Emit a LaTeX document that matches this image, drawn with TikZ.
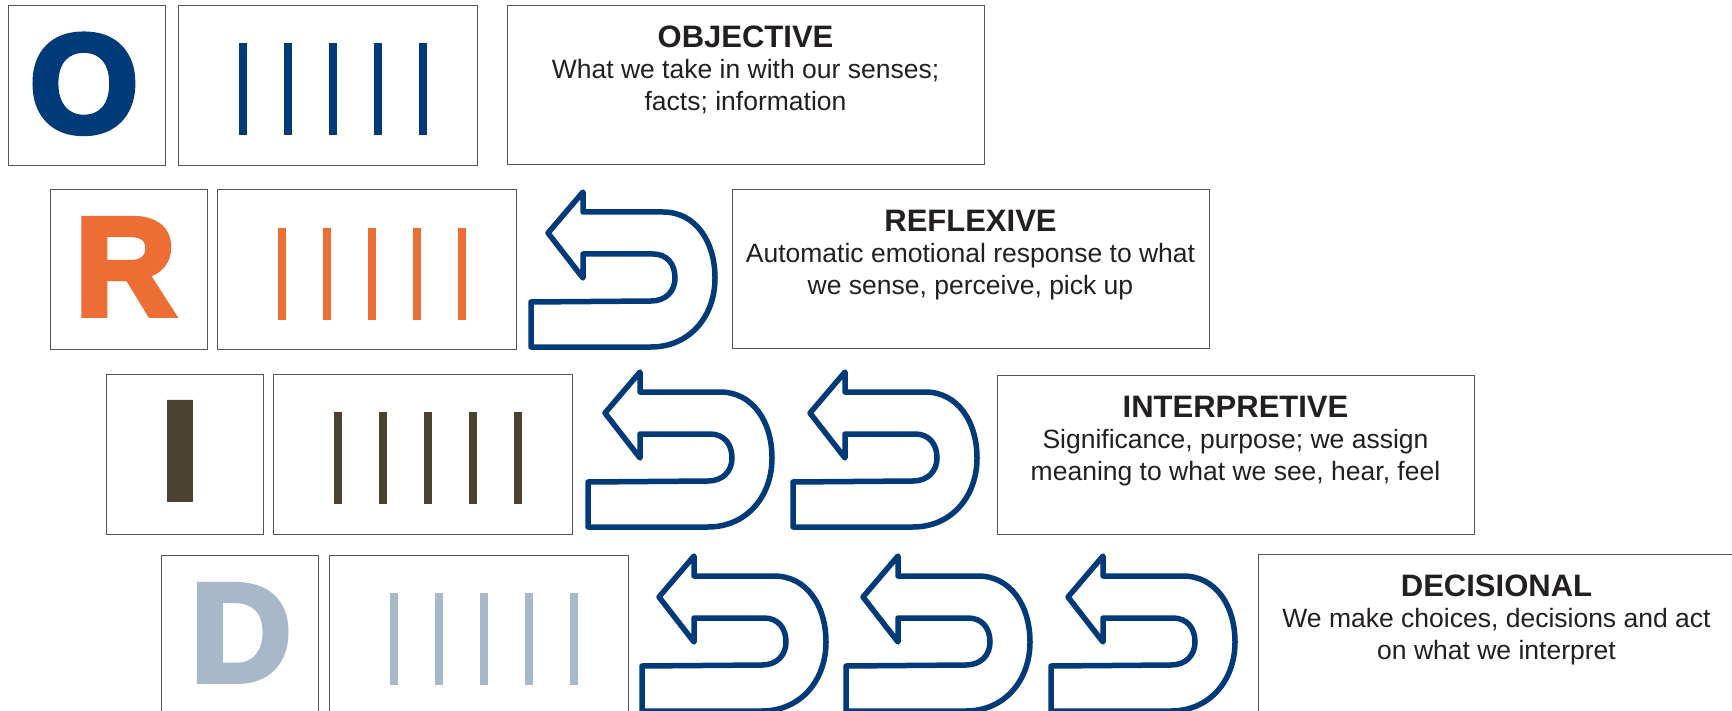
\documentclass[tikz,border=0pt]{standalone}
\usepackage{fontspec}
\setmainfont{Liberation Sans}
\newfontfamily\heavyfont{Liberation Sans Bold}[FakeBold=4]
\definecolor{oblue}{HTML}{003A78}
\definecolor{rorange}{HTML}{EC6E34}
\definecolor{ibrown}{HTML}{4B4230}
\definecolor{dgray}{HTML}{A7B8CB}
\definecolor{boxgray}{HTML}{555555}
\definecolor{txt}{HTML}{231F20}
\tikzset{
  framebox/.style={draw=boxgray, line width=1.4pt, fill=white, inner sep=0pt, anchor=north west},
  letterbox/.style={framebox, minimum width=157pt, minimum height=160pt},
  linesbox/.style={framebox, minimum width=299pt, minimum height=160pt},
  textbox/.style={framebox, minimum width=477pt, minimum height=159pt},
  bigletter/.style={font=\heavyfont\fontsize{140}{140}\selectfont, inner sep=0pt, anchor=base},
  desc/.style={font=\fontsize{26.5}{32}\selectfont, text=txt, align=center, inner sep=0pt, anchor=north},
  tally/.style={line width=8pt},
  uturn/.pic={
    \draw[draw=oblue, line width=5.5pt, line join=round, fill=white]
      (17,41) -- (52,0) -- (52,20) -- (132,20)
      .. controls (165,20) and (184,50) .. (184,86)
      .. controls (184,125) and (158,155) .. (120,155)
      -- (0,155) -- (0,110) -- (120,109)
      .. controls (135,109) and (144,99) .. (144,86)
      .. controls (144,72) and (136,62) .. (122,62)
      -- (52,62) -- (52,86) -- cycle;
  }
}
\begin{document}
\begin{tikzpicture}[x=1pt, y=-1pt]
\clip (0,0) rectangle (1732,711);
\fill[white] (0,0) rectangle (1732,711);

% ---------- Row O ----------
\node[letterbox] (Obox) at (8,5) {};
\node[bigletter, text=oblue] (Olet) at (84,132) {O};
\node[linesbox] (Olines) at (178,5) {};
\foreach \k in {0,...,4} \draw[tally, oblue] (243+45*\k,43) -- (243+45*\k,135);
\node[textbox] (Obox2) at (507,5) {};
\node[desc] (Otext) at (745.5,26) {{\bfseries\fontsize{31}{31}\selectfont OBJECTIVE}\\[-1pt]What we take in with our senses;\\facts; information};

% ---------- Row R ----------
\node[letterbox] (Rbox) at (50,189) {};
\node[bigletter, text=rorange] (Rlet) at (125.5,315) {R};
\node[linesbox] (Rlines) at (217,189) {};
\foreach \k in {0,...,4} \draw[tally, rorange] (282+45*\k,228) -- (282+45*\k,320);
\pic (aR) at (531,192) {uturn};
\node[textbox] (Rbox2) at (732,189) {};
\node[desc] (Rtext) at (970.5,210) {{\bfseries\fontsize{31}{31}\selectfont REFLEXIVE}\\[-1pt]Automatic emotional response to what\\we sense, perceive, pick up};

% ---------- Row I ----------
\node[letterbox] (Ibox) at (106,374) {};
\node[bigletter, text=ibrown] (Ilet) at (180,499) {I};
\node[linesbox] (Ilines) at (273,374) {};
\foreach \k in {0,...,4} \draw[tally, ibrown] (338+45*\k,412) -- (338+45*\k,504);
\pic (aI1) at (588,372) {uturn};
\pic (aI2) at (793,372) {uturn};
\node[textbox] (Ibox2) at (997,375) {};
\node[desc] (Itext) at (1235.5,396) {{\bfseries\fontsize{31}{31}\selectfont INTERPRETIVE}\\[-1pt]Significance, purpose; we assign\\meaning to what we see, hear, feel};

% ---------- Row D ----------
\node[letterbox] (Dbox) at (161,555) {};
\node[bigletter, text=dgray] (Dlet) at (241,681) {D};
\node[linesbox] (Dlines) at (329,555) {};
\foreach \k in {0,...,4} \draw[tally, dgray] (394+45*\k,593) -- (394+45*\k,685);
\pic (aD1) at (642,556) {uturn};
\pic (aD2) at (846,556) {uturn};
\pic (aD3) at (1051,556) {uturn};
\node[textbox] (Dbox2) at (1258,554) {};
\node[desc] (Dtext) at (1496.5,575) {{\bfseries\fontsize{31}{31}\selectfont DECISIONAL}\\[-1pt]We make choices, decisions and act\\on what we interpret};
\end{tikzpicture}
\end{document}
